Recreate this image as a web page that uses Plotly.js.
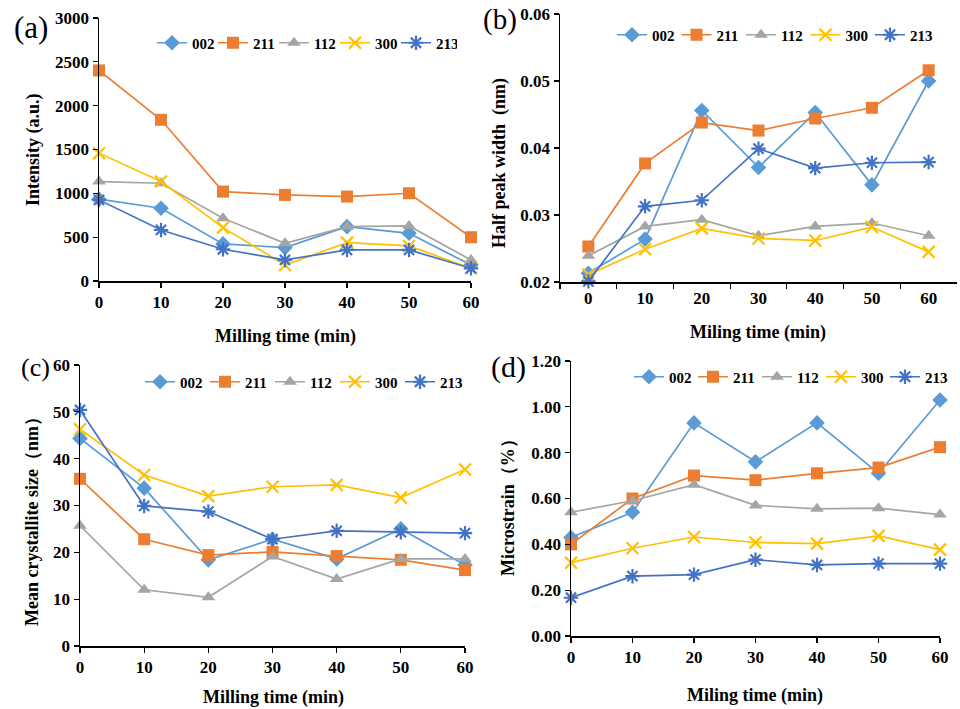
<!DOCTYPE html>
<html><head><meta charset="utf-8">
<script src="https://cdn.plot.ly/plotly-3.0.1.min.js"></script>
<style>html,body{margin:0;padding:0;background:#fff}#c{width:960px;height:709px}</style>
</head><body><div id="c"></div>
<script>
const times = [0, 10, 20, 30, 40, 50, 60];
const timeCats = ['0', '10', '20', '30', '40', '50', '60'];
const names = ['002', '211', '112', '300', '213'];

// (a) Intensity (a.u.)
const int002 = [933, 830, 423, 381, 620, 544, 183];
const int211 = [2402, 1839, 1020, 982, 963, 1001, 499];
const int112 = [1134, 1115, 716, 430, 620, 628, 240];
const int300 = [1458, 1134, 609, 183, 438, 400, 145];
const int213 = [925, 582, 362, 240, 354, 354, 145];

// (b) Half peak width (nm)
const hpw002 = [0.0213, 0.0264, 0.0456, 0.0371, 0.0453, 0.0345, 0.0500];
const hpw211 = [0.0253, 0.0377, 0.0438, 0.0426, 0.0444, 0.0460, 0.0516];
const hpw112 = [0.0239, 0.0283, 0.0293, 0.0269, 0.0283, 0.0288, 0.0269];
const hpw300 = [0.0211, 0.0249, 0.0280, 0.0265, 0.0262, 0.0282, 0.0245];
const hpw213 = [0.0201, 0.0313, 0.0322, 0.0399, 0.0370, 0.0378, 0.0379];

// (c) Mean crystallite size (nm)
const cs002 = [44.3, 33.7, 18.4, 22.8, 18.6, 25.0, 17.3];
const cs211 = [35.7, 22.8, 19.4, 20.1, 19.2, 18.4, 16.2];
const cs112 = [25.7, 12.0, 10.4, 19.1, 14.3, 18.6, 18.6];
const cs300 = [46.3, 36.5, 32.0, 34.0, 34.4, 31.7, 37.7];
const cs213 = [50.4, 29.9, 28.7, 22.8, 24.6, 24.3, 24.1];

// (d) Microstrain (%)
const ms002 = [0.43, 0.54, 0.93, 0.76, 0.93, 0.71, 1.03];
const ms211 = [0.40, 0.60, 0.70, 0.68, 0.71, 0.735, 0.824];
const ms112 = [0.54, 0.59, 0.66, 0.57, 0.555, 0.558, 0.53];
const ms300 = [0.32, 0.383, 0.432, 0.408, 0.403, 0.437, 0.377];
const ms213 = [0.167, 0.261, 0.268, 0.333, 0.31, 0.316, 0.316];

const colors = ['#5B9BD5', '#ED7D31', '#A5A5A5', '#FFC000', '#4472C4'];
const symbols = ['diamond', 'square', 'triangle-up', 'x-thin-open', 'asterisk-open'];
const sizes = [12, 12, 12, 12, 12];
const SERIF = 'Liberation Serif, Times New Roman, serif';

const panels = [
  {data: [int002, int211, int112, int300, int213], xa: 'x', ya: 'y', leg: 'legend', cat: false},
  {data: [hpw002, hpw211, hpw112, hpw300, hpw213], xa: 'x2', ya: 'y2', leg: 'legend2', cat: true},
  {data: [cs002, cs211, cs112, cs300, cs213], xa: 'x3', ya: 'y3', leg: 'legend3', cat: false},
  {data: [ms002, ms211, ms112, ms300, ms213], xa: 'x4', ya: 'y4', leg: 'legend4', cat: false}
];

const traces = [];
panels.forEach(p => {
  p.data.forEach((ys, i) => {
    traces.push({
      x: p.cat ? timeCats : times, y: ys, name: names[i],
      xaxis: p.xa, yaxis: p.ya, legend: p.leg,
      type: 'scatter', mode: 'lines+markers', cliponaxis: false,
      line: {color: colors[i], width: 1.7},
      marker: {symbol: symbols[i], size: sizes[i], color: colors[i],
               line: {color: colors[i], width: (i >= 3 ? 2.2 : 0)}}
    });
  });
});

const tickFont = {family: SERIF, size: 17, color: '#000', weight: 'bold'};
function xax(domain, cat) {
  const a = {domain: domain, showgrid: false, zeroline: false, showline: true,
    linecolor: '#000', linewidth: 1.5, ticks: 'outside', ticklen: 5, tickwidth: 1.2,
    tickcolor: '#000', tickfont: tickFont, fixedrange: true};
  if (cat) { a.type = 'category'; a.range = [-0.5, 6.5]; a.tickson = 'boundaries'; }
  else { a.range = [0, 60]; a.tickvals = times; a.ticktext = timeCats; }
  return a;
}
function yax(domain, range, dtick, fmt, anchor) {
  return {domain: domain, range: range, dtick: dtick, tick0: range[0], tickformat: fmt,
    anchor: anchor, showgrid: false, zeroline: false, showline: true, linecolor: '#000',
    linewidth: 1.5, ticks: 'outside', ticklen: 5, tickwidth: 1.2, tickcolor: '#000',
    tickfont: tickFont, fixedrange: true};
}
function legend(x, y, ew) {
  return {orientation: 'h', x: x, y: y, xanchor: 'left', yanchor: 'middle',
    xref: 'paper', yref: 'paper', bgcolor: 'rgba(0,0,0,0)', itemwidth: 30,
    entrywidth: ew, entrywidthmode: 'pixels',
    font: {family: SERIF, size: 15, color: '#000', weight: 'bold'}, tracegroupgap: 0};
}
function ann(text, x, y, size, rot, bold) {
  return {text: text, x: x / 960, y: 1 - y / 709, xref: 'paper', yref: 'paper',
    xanchor: 'center', yanchor: 'middle', showarrow: false, textangle: rot || 0,
    font: {family: SERIF, size: size, color: '#000', weight: bold ? 'bold' : 'normal'}};
}

const layout = {
  width: 960, height: 709, margin: {l: 0, r: 0, t: 0, b: 0},
  paper_bgcolor: '#fff', plot_bgcolor: 'rgba(0,0,0,0)', showlegend: true,
  xaxis: Object.assign(xax([99/960, 471/960], false), {anchor: 'y'}),
  yaxis: yax([1 - 281/709, 1 - 18/709], [0, 3000], 500, 'd', 'x'),
  xaxis2: Object.assign(xax([560/960, 957/960], true), {anchor: 'y2'}),
  yaxis2: yax([1 - 282/709, 1 - 14/709], [0.02, 0.06], 0.01, '.2f', 'x2'),
  xaxis3: Object.assign(xax([80/960, 465/960], false), {anchor: 'y3'}),
  yaxis3: yax([1 - 646/709, 1 - 365/709], [0, 60], 10, 'd', 'x3'),
  xaxis4: Object.assign(xax([571/960, 940/960], false), {anchor: 'y4'}),
  yaxis4: yax([1 - 636/709, 1 - 361/709], [0, 1.2], 0.2, '.2f', 'x4'),
  legend: legend(152/960, 1 - 43/709, 16),
  legend2: legend(612/960, 1 - 35/709, 19.5),
  legend3: legend(140/960, 1 - 382/709, 20),
  legend4: legend(629/960, 1 - 377/709, 19),
  annotations: [
    ann('(a)', 31, 27, 31, 0, false),
    ann('(b)', 500, 20, 29, 0, false),
    ann('(c)', 35, 367, 26, 0, false),
    ann('(d)', 508, 367, 30, 0, false),
    ann('Milling time (min)', 285, 337, 18, 0, true),
    ann('Intensity (a.u.)', 33, 150, 18, -90, true),
    ann('Miling time (min)', 758, 333, 18, 0, true),
    ann('Half peak width  (nm)', 500, 163, 18, -90, true),
    ann('Milling time (min)', 273, 697, 18, 0, true),
    ann('Mean crystallite size（nm）', 32, 517, 18, -90, true),
    ann('Miling time (min)', 755, 695, 18, 0, true),
    ann('Microstrain（%）', 508, 503, 18, -90, true)
  ]
};

Plotly.newPlot('c', traces, layout, {displayModeBar: false, staticPlot: true});
</script></body></html>
